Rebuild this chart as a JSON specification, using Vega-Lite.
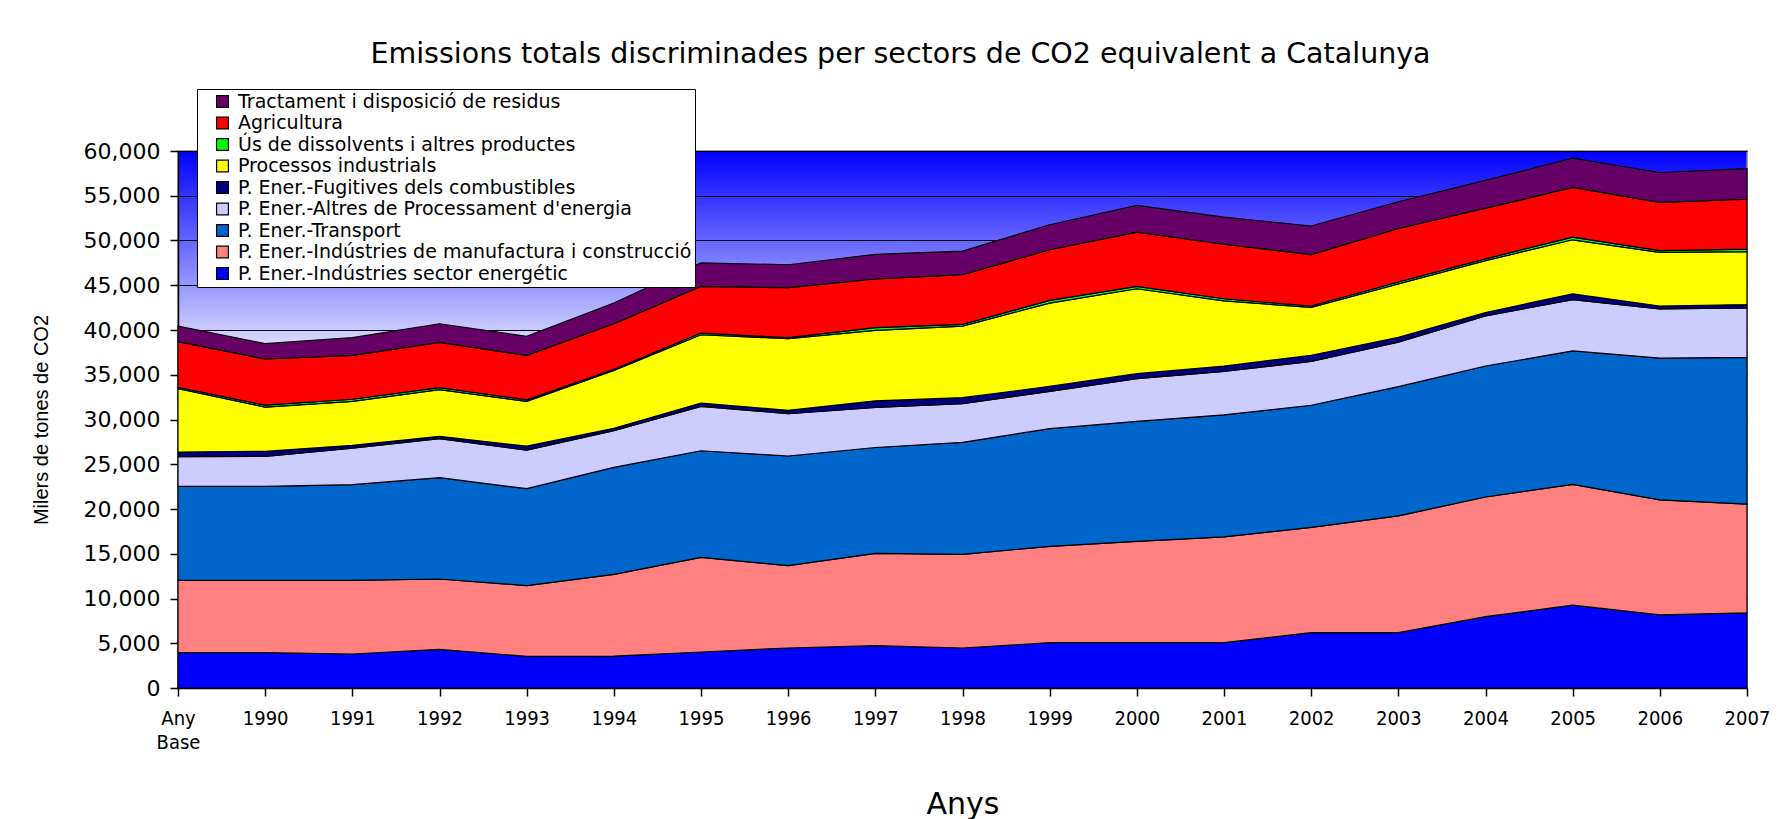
{
"$schema": "https://vega.github.io/schema/vega-lite/v6.json",
"width": 1569,
"height": 537,
"autosize": {"type": "none"},
"padding": {"left": 178, "top": 151, "right": 35, "bottom": 131},
"background": "white",
"title": {"text": "Emissions totals discriminades per sectors de CO2 equivalent a Catalunya", "font": "DejaVu Sans", "fontSize": 28.5, "fontWeight": "normal", "color": "black", "anchor": "middle", "frame": "group", "dx": -62, "offset": 20},
"datasets": {"ordre": [
{"sector":"P. Ener.-Indústries sector energétic","posicio":1},
{"sector":"P. Ener.-Indústries de manufactura i construcció","posicio":2},
{"sector":"P. Ener.-Transport","posicio":3},
{"sector":"P. Ener.-Altres de Processament d'energia","posicio":4},
{"sector":"P. Ener.-Fugitives dels combustibles","posicio":5},
{"sector":"Processos industrials","posicio":6},
{"sector":"Ús de dissolvents i altres productes","posicio":7},
{"sector":"Agricultura","posicio":8},
{"sector":"Tractament i disposició de residus","posicio":9}
]},
"data": {"values": [
{"any":"Any Base","sector":"P. Ener.-Indústries sector energétic","valor":3950},
{"any":"Any Base","sector":"P. Ener.-Indústries de manufactura i construcció","valor":8080},
{"any":"Any Base","sector":"P. Ener.-Transport","valor":10500},
{"any":"Any Base","sector":"P. Ener.-Altres de Processament d'energia","valor":3320},
{"any":"Any Base","sector":"P. Ener.-Fugitives dels combustibles","valor":520},
{"any":"Any Base","sector":"Processos industrials","valor":7080},
{"any":"Any Base","sector":"Ús de dissolvents i altres productes","valor":150},
{"any":"Any Base","sector":"Agricultura","valor":5100},
{"any":"Any Base","sector":"Tractament i disposició de residus","valor":1750},
{"any":"1990","sector":"P. Ener.-Indústries sector energétic","valor":3950},
{"any":"1990","sector":"P. Ener.-Indústries de manufactura i construcció","valor":8080},
{"any":"1990","sector":"P. Ener.-Transport","valor":10500},
{"any":"1990","sector":"P. Ener.-Altres de Processament d'energia","valor":3350},
{"any":"1990","sector":"P. Ener.-Fugitives dels combustibles","valor":560},
{"any":"1990","sector":"Processos industrials","valor":4950},
{"any":"1990","sector":"Ús de dissolvents i altres productes","valor":210},
{"any":"1990","sector":"Agricultura","valor":5160},
{"any":"1990","sector":"Tractament i disposició de residus","valor":1710},
{"any":"1991","sector":"P. Ener.-Indústries sector energétic","valor":3800},
{"any":"1991","sector":"P. Ener.-Indústries de manufactura i construcció","valor":8230},
{"any":"1991","sector":"P. Ener.-Transport","valor":10690},
{"any":"1991","sector":"P. Ener.-Altres de Processament d'energia","valor":4090},
{"any":"1991","sector":"P. Ener.-Fugitives dels combustibles","valor":300},
{"any":"1991","sector":"Processos industrials","valor":4920},
{"any":"1991","sector":"Ús de dissolvents i altres productes","valor":230},
{"any":"1991","sector":"Agricultura","valor":4910},
{"any":"1991","sector":"Tractament i disposició de residus","valor":1970},
{"any":"1992","sector":"P. Ener.-Indústries sector energétic","valor":4320},
{"any":"1992","sector":"P. Ener.-Indústries de manufactura i construcció","valor":7860},
{"any":"1992","sector":"P. Ener.-Transport","valor":11320},
{"any":"1992","sector":"P. Ener.-Altres de Processament d'energia","valor":4360},
{"any":"1992","sector":"P. Ener.-Fugitives dels combustibles","valor":260},
{"any":"1992","sector":"Processos industrials","valor":5210},
{"any":"1992","sector":"Ús de dissolvents i altres productes","valor":230},
{"any":"1992","sector":"Agricultura","valor":5060},
{"any":"1992","sector":"Tractament i disposició de residus","valor":2080},
{"any":"1993","sector":"P. Ener.-Indústries sector energétic","valor":3540},
{"any":"1993","sector":"P. Ener.-Indústries de manufactura i construcció","valor":7910},
{"any":"1993","sector":"P. Ener.-Transport","valor":10820},
{"any":"1993","sector":"P. Ener.-Altres de Processament d'energia","valor":4320},
{"any":"1993","sector":"P. Ener.-Fugitives dels combustibles","valor":430},
{"any":"1993","sector":"Processos industrials","valor":5010},
{"any":"1993","sector":"Ús de dissolvents i altres productes","valor":170},
{"any":"1993","sector":"Agricultura","valor":4970},
{"any":"1993","sector":"Tractament i disposició de residus","valor":2120},
{"any":"1994","sector":"P. Ener.-Indústries sector energétic","valor":3570},
{"any":"1994","sector":"P. Ener.-Indústries de manufactura i construcció","valor":9130},
{"any":"1994","sector":"P. Ener.-Transport","valor":11950},
{"any":"1994","sector":"P. Ener.-Altres de Processament d'energia","valor":4100},
{"any":"1994","sector":"P. Ener.-Fugitives dels combustibles","valor":260},
{"any":"1994","sector":"Processos industrials","valor":6480},
{"any":"1994","sector":"Ús de dissolvents i altres productes","valor":110},
{"any":"1994","sector":"Agricultura","valor":5100},
{"any":"1994","sector":"Tractament i disposició de residus","valor":2310},
{"any":"1995","sector":"P. Ener.-Indústries sector energétic","valor":4020},
{"any":"1995","sector":"P. Ener.-Indústries de manufactura i construcció","valor":10580},
{"any":"1995","sector":"P. Ener.-Transport","valor":11910},
{"any":"1995","sector":"P. Ener.-Altres de Processament d'energia","valor":4960},
{"any":"1995","sector":"P. Ener.-Fugitives dels combustibles","valor":370},
{"any":"1995","sector":"Processos industrials","valor":7630},
{"any":"1995","sector":"Ús de dissolvents i altres productes","valor":190},
{"any":"1995","sector":"Agricultura","valor":5210},
{"any":"1995","sector":"Tractament i disposició de residus","valor":2630},
{"any":"1996","sector":"P. Ener.-Indústries sector energétic","valor":4470},
{"any":"1996","sector":"P. Ener.-Indústries de manufactura i construcció","valor":9200},
{"any":"1996","sector":"P. Ener.-Transport","valor":12250},
{"any":"1996","sector":"P. Ener.-Altres de Processament d'energia","valor":4730},
{"any":"1996","sector":"P. Ener.-Fugitives dels combustibles","valor":370},
{"any":"1996","sector":"Processos industrials","valor":8010},
{"any":"1996","sector":"Ús de dissolvents i altres productes","valor":110},
{"any":"1996","sector":"Agricultura","valor":5590},
{"any":"1996","sector":"Tractament i disposició de residus","valor":2560},
{"any":"1997","sector":"P. Ener.-Indústries sector energétic","valor":4730},
{"any":"1997","sector":"P. Ener.-Indústries de manufactura i construcció","valor":10310},
{"any":"1997","sector":"P. Ener.-Transport","valor":11830},
{"any":"1997","sector":"P. Ener.-Altres de Processament d'energia","valor":4470},
{"any":"1997","sector":"P. Ener.-Fugitives dels combustibles","valor":750},
{"any":"1997","sector":"Processos industrials","valor":7860},
{"any":"1997","sector":"Ús de dissolvents i altres productes","valor":320},
{"any":"1997","sector":"Agricultura","valor":5430},
{"any":"1997","sector":"Tractament i disposició de residus","valor":2750},
{"any":"1998","sector":"P. Ener.-Indústries sector energétic","valor":4470},
{"any":"1998","sector":"P. Ener.-Indústries de manufactura i construcció","valor":10460},
{"any":"1998","sector":"P. Ener.-Transport","valor":12520},
{"any":"1998","sector":"P. Ener.-Altres de Processament d'energia","valor":4320},
{"any":"1998","sector":"P. Ener.-Fugitives dels combustibles","valor":670},
{"any":"1998","sector":"Processos industrials","valor":8000},
{"any":"1998","sector":"Ús de dissolvents i altres productes","valor":190},
{"any":"1998","sector":"Agricultura","valor":5550},
{"any":"1998","sector":"Tractament i disposició de residus","valor":2640},
{"any":"1999","sector":"P. Ener.-Indústries sector energétic","valor":5060},
{"any":"1999","sector":"P. Ener.-Indústries de manufactura i construcció","valor":10770},
{"any":"1999","sector":"P. Ener.-Transport","valor":13140},
{"any":"1999","sector":"P. Ener.-Altres de Processament d'energia","valor":4170},
{"any":"1999","sector":"P. Ener.-Fugitives dels combustibles","valor":560},
{"any":"1999","sector":"Processos industrials","valor":9310},
{"any":"1999","sector":"Ús de dissolvents i altres productes","valor":300},
{"any":"1999","sector":"Agricultura","valor":5660},
{"any":"1999","sector":"Tractament i disposició de residus","valor":2790},
{"any":"2000","sector":"P. Ener.-Indústries sector energétic","valor":5060},
{"any":"2000","sector":"P. Ener.-Indústries de manufactura i construcció","valor":11330},
{"any":"2000","sector":"P. Ener.-Transport","valor":13400},
{"any":"2000","sector":"P. Ener.-Altres de Processament d'energia","valor":4770},
{"any":"2000","sector":"P. Ener.-Fugitives dels combustibles","valor":560},
{"any":"2000","sector":"Processos industrials","valor":9490},
{"any":"2000","sector":"Ús de dissolvents i altres productes","valor":260},
{"any":"2000","sector":"Agricultura","valor":6070},
{"any":"2000","sector":"Tractament i disposició de residus","valor":2980},
{"any":"2001","sector":"P. Ener.-Indústries sector energétic","valor":5070},
{"any":"2001","sector":"P. Ener.-Indústries de manufactura i construcció","valor":11820},
{"any":"2001","sector":"P. Ener.-Transport","valor":13630},
{"any":"2001","sector":"P. Ener.-Altres de Processament d'energia","valor":4850},
{"any":"2001","sector":"P. Ener.-Fugitives dels combustibles","valor":600},
{"any":"2001","sector":"Processos industrials","valor":7290},
{"any":"2001","sector":"Ús de dissolvents i altres productes","valor":230},
{"any":"2001","sector":"Agricultura","valor":6090},
{"any":"2001","sector":"Tractament i disposició de residus","valor":3040},
{"any":"2002","sector":"P. Ener.-Indústries sector energétic","valor":6180},
{"any":"2002","sector":"P. Ener.-Indústries de manufactura i construcció","valor":11770},
{"any":"2002","sector":"P. Ener.-Transport","valor":13640},
{"any":"2002","sector":"P. Ener.-Altres de Processament d'energia","valor":4910},
{"any":"2002","sector":"P. Ener.-Fugitives dels combustibles","valor":680},
{"any":"2002","sector":"Processos industrials","valor":5340},
{"any":"2002","sector":"Ús de dissolvents i altres productes","valor":160},
{"any":"2002","sector":"Agricultura","valor":5750},
{"any":"2002","sector":"Tractament i disposició de residus","valor":3190},
{"any":"2003","sector":"P. Ener.-Indústries sector energétic","valor":6180},
{"any":"2003","sector":"P. Ener.-Indústries de manufactura i construcció","valor":13050},
{"any":"2003","sector":"P. Ener.-Transport","valor":14440},
{"any":"2003","sector":"P. Ener.-Altres de Processament d'energia","valor":4980},
{"any":"2003","sector":"P. Ener.-Fugitives dels combustibles","valor":520},
{"any":"2003","sector":"Processos industrials","valor":5980},
{"any":"2003","sector":"Ús de dissolvents i altres productes","valor":210},
{"any":"2003","sector":"Agricultura","valor":5980},
{"any":"2003","sector":"Tractament i disposició de residus","valor":2990},
{"any":"2004","sector":"P. Ener.-Indústries sector energétic","valor":7980},
{"any":"2004","sector":"P. Ener.-Indústries de manufactura i construcció","valor":13360},
{"any":"2004","sector":"P. Ener.-Transport","valor":14640},
{"any":"2004","sector":"P. Ener.-Altres de Processament d'energia","valor":5590},
{"any":"2004","sector":"P. Ener.-Fugitives dels combustibles","valor":390},
{"any":"2004","sector":"Processos industrials","valor":5790},
{"any":"2004","sector":"Ús de dissolvents i altres productes","valor":200},
{"any":"2004","sector":"Agricultura","valor":5660},
{"any":"2004","sector":"Tractament i disposició de residus","valor":3110},
{"any":"2005","sector":"P. Ener.-Indústries sector energétic","valor":9250},
{"any":"2005","sector":"P. Ener.-Indústries de manufactura i construcció","valor":13490},
{"any":"2005","sector":"P. Ener.-Transport","valor":14920},
{"any":"2005","sector":"P. Ener.-Altres de Processament d'energia","valor":5740},
{"any":"2005","sector":"P. Ener.-Fugitives dels combustibles","valor":640},
{"any":"2005","sector":"Processos industrials","valor":6040},
{"any":"2005","sector":"Ús de dissolvents i altres productes","valor":300},
{"any":"2005","sector":"Agricultura","valor":5550},
{"any":"2005","sector":"Tractament i disposició de residus","valor":3270},
{"any":"2006","sector":"P. Ener.-Indústries sector energétic","valor":8180},
{"any":"2006","sector":"P. Ener.-Indústries de manufactura i construcció","valor":12840},
{"any":"2006","sector":"P. Ener.-Transport","valor":15840},
{"any":"2006","sector":"P. Ener.-Altres de Processament d'energia","valor":5500},
{"any":"2006","sector":"P. Ener.-Fugitives dels combustibles","valor":320},
{"any":"2006","sector":"Processos industrials","valor":5990},
{"any":"2006","sector":"Ús de dissolvents i altres productes","valor":200},
{"any":"2006","sector":"Agricultura","valor":5380},
{"any":"2006","sector":"Tractament i disposició de residus","valor":3350},
{"any":"2007","sector":"P. Ener.-Indústries sector energétic","valor":8400},
{"any":"2007","sector":"P. Ener.-Indústries de manufactura i construcció","valor":12140},
{"any":"2007","sector":"P. Ener.-Transport","valor":16400},
{"any":"2007","sector":"P. Ener.-Altres de Processament d'energia","valor":5540},
{"any":"2007","sector":"P. Ener.-Fugitives dels combustibles","valor":360},
{"any":"2007","sector":"Processos industrials","valor":5910},
{"any":"2007","sector":"Ús de dissolvents i altres productes","valor":280},
{"any":"2007","sector":"Agricultura","valor":5580},
{"any":"2007","sector":"Tractament i disposició de residus","valor":3430}
]},
"transform": [{"lookup": "sector", "from": {"data": {"name": "ordre"}, "key": "sector", "fields": ["posicio"]}}],
"mark": {"type": "area", "stroke": "black", "strokeWidth": 1.2, "opacity": 1},
"encoding": {
  "x": {"field": "any", "type": "ordinal",
        "sort": ["Any Base","1990","1991","1992","1993","1994","1995","1996","1997","1998","1999","2000","2001","2002","2003","2004","2005","2006","2007"],
        "scale": {"type": "point", "padding": 0},
        "axis": {"title": "Anys", "labelAngle": 0, "labelFont": "Liberation Sans Narrow, DejaVu Sans Condensed, sans-serif", "labelFontSize": 20, "labelColor": "black", "labelPadding": 12, "labelBaseline": "top", "labelLineHeight": 24,
                 "labelExpr": "datum.label == 'Any Base' ? ['Any', 'Base'] : datum.label",
                 "tickSize": 8, "tickColor": "black", "tickWidth": 1.5, "domainColor": "black", "domainWidth": 1.5, "grid": false,
                 "titleFont": "DejaVu Sans", "titleFontSize": 30, "titleFontWeight": "normal", "titleColor": "black", "titlePadding": 37}},
  "y": {"field": "valor", "type": "quantitative", "stack": "zero",
        "scale": {"domain": [0, 60000], "nice": false},
        "axis": {"title": "Milers de tones de CO2", "values": [0,5000,10000,15000,20000,25000,30000,35000,40000,45000,50000,55000,60000], "format": ",d",
                 "labelFont": "DejaVu Sans", "labelFontSize": 22, "labelColor": "black", "labelPadding": 10,
                 "tickSize": 8, "tickColor": "black", "tickWidth": 1.5, "domainColor": "black", "domainWidth": 1.5,
                 "grid": true, "gridColor": "black", "gridWidth": 1, "gridOpacity": 1,
                 "titleFont": "Liberation Sans", "titleFontSize": 20, "titleFontWeight": "normal", "titleColor": "black", "titlePadding": 32}},
  "order": {"field": "posicio", "type": "quantitative", "sort": "ascending"},
  "color": {"field": "sector", "type": "nominal",
            "sort": ["P. Ener.-Indústries sector energétic","P. Ener.-Indústries de manufactura i construcció","P. Ener.-Transport","P. Ener.-Altres de Processament d'energia","P. Ener.-Fugitives dels combustibles","Processos industrials","Ús de dissolvents i altres productes","Agricultura","Tractament i disposició de residus"],
            "scale": {"range": ["#0000FF","#FF8080","#0066CC","#CCCCFF","#000080","#FFFF00","#00FF00","#FF0000","#660066"]},
            "legend": {"title": null, "orient": "none", "legendX": 19, "legendY": -62,
                       "values": ["Tractament i disposició de residus","Agricultura","Ús de dissolvents i altres productes","Processos industrials","P. Ener.-Fugitives dels combustibles","P. Ener.-Altres de Processament d'energia","P. Ener.-Transport","P. Ener.-Indústries de manufactura i construcció","P. Ener.-Indústries sector energétic"],
                       "fillColor": "white", "strokeColor": "black", "padding": 3,
                       "symbolType": "square", "symbolSize": 140, "symbolStrokeColor": "black", "symbolStrokeWidth": 1.2, "symbolOpacity": 1, "symbolOffset": 13,
                       "labelFont": "DejaVu Sans", "labelFontSize": 19, "labelColor": "black", "labelLimit": 0, "labelOffset": 6, "rowPadding": 1.5}}
},
"config": {
  "view": {"fill": {"gradient": "linear", "x1": 0, "y1": 0, "x2": 0, "y2": 1, "stops": [{"offset": 0, "color": "#0000FF"}, {"offset": 0.42, "color": "#FFFFFF"}, {"offset": 1, "color": "#FFFFFF"}]}, "stroke": "#808080", "strokeWidth": 1.5}
}
}
